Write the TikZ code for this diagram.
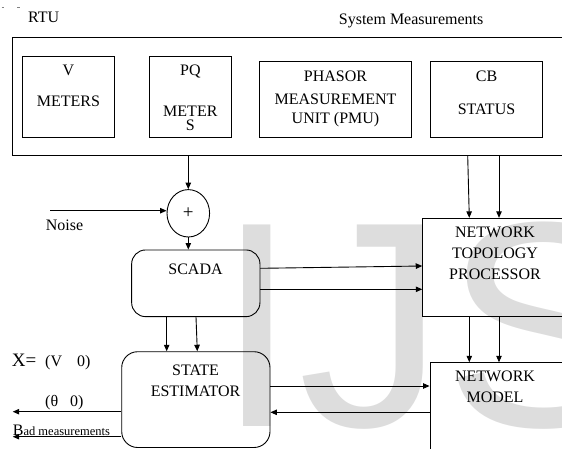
\documentclass[tikz,border=0pt]{standalone}
\usepackage{fontspec}
\setmainfont{Liberation Serif}
\newfontfamily\wmfont{Liberation Sans}
\usetikzlibrary{arrows.meta,shapes.geometric}
\definecolor{wmgray}{RGB}{221,221,221}
\begin{document}
\begin{tikzpicture}[x=1pt,y=-1pt,
  box/.style={draw, line width=0.9pt, inner sep=0pt},
  rbox/.style={box, rounded corners=14pt},
  lbl/.style={font=\fontsize{16}{19}\selectfont, anchor=base, inner sep=0pt},
  lblw/.style={lbl, anchor=base west},
  arr/.style={-{Triangle[length=6.5pt,width=5.5pt]}, line width=0.9pt}]
\useasboundingbox (0,0) rectangle (562,448);
% watermark
\node[anchor=base west, inner sep=0pt, text=wmgray, font=\wmfont\fontsize{293}{293}\selectfont] (wm) at (216.5,426) {IJS};
% tiny marks
\draw[line width=0.5pt, gray] (1.5,7.3) -- (4,7.3) (17,7.3) -- (19.5,7.3);
% labels on top
\node[lblw] (rtuL) at (28,22.7) {RTU};
\node[lblw] (sysL) at (338.7,24.3) {System Measurements};
% outer RTU box
\node[box, anchor=north west, minimum width=557.7pt, minimum height=118pt] (rtu) at (12.3,37) {};
% meter boxes
\node[box, minimum width=91.6pt, minimum height=80.6pt] (vm) at (68.5,97) {};
\node[lbl] (vm1) at (68.5,75) {V};
\node[lbl] (vm2) at (68.5,106) {METERS};
\node[box, minimum width=82.7pt, minimum height=80.6pt] (pq) at (190.35,97) {};
\node[lbl] (pq1) at (190.35,75) {PQ};
\node[lbl] (pq2) at (190.35,116.5) {METER};
\node[lbl] (pq3) at (190.35,130.5) {S};
\node[box, minimum width=152.4pt, minimum height=75.6pt] (pmu) at (335.5,99.5) {};
\node[lbl] (pmu1) at (335.5,81.7) {PHASOR};
\node[lbl] (pmu2) at (335.5,104) {MEASUREMENT};
\node[lbl] (pmu3) at (335.5,123) {UNIT (PMU)};
\node[box, minimum width=111.6pt, minimum height=75.6pt] (cb) at (486.5,99.5) {};
\node[lbl] (cb1) at (486.5,81) {CB};
\node[lbl] (cb2) at (486.5,114.5) {STATUS};
% summing junction
\node[draw, ellipse, line width=0.9pt, inner sep=0pt, minimum width=42.6pt, minimum height=47.4pt, font=\fontsize{19}{22}\selectfont] (sum) at (188.3,213.3) {+};
\coordinate (nz) at (50,210.7);
\node[lblw] (noiseL) at (45.7,230) {Noise};
% SCADA
\node[rbox, minimum width=128.3pt, minimum height=66.7pt] (scada) at (195.8,283.3) {};
\node[lbl] (scada1) at (195.5,274) {SCADA};
% state estimator
\node[rbox, rounded corners=16pt, minimum width=148.3pt, minimum height=95.8pt] (se) at (195.85,399.6) {};
\node[lbl] (se1) at (195.5,375) {STATE};
\node[lbl] (se2) at (195.5,396.7) {ESTIMATOR};
% network topology processor
\node[box, minimum width=142.3pt, minimum height=98.4pt] (ntp) at (493.85,267.5) {};
\node[lbl] (ntp1) at (495,237.3) {NETWORK};
\node[lbl] (ntp2) at (495,258.3) {TOPOLOGY};
\node[lbl] (ntp3) at (495,279) {PROCESSOR};
% network model
\node[box, minimum width=135pt, minimum height=92.3pt] (nm) at (497.5,408.85) {};
\node[lbl] (nm1) at (495,381.7) {NETWORK};
\node[lbl] (nm2) at (495,402.3) {MODEL};
% left labels
\node[anchor=base west, inner sep=0pt, font=\fontsize{19}{22}\selectfont] (xeq) at (11.7,366.7) {X=};
\node[lblw] (vang) at (45,366.7) {(V\hspace{15pt}0)};
\node[lblw] (thang) at (45,406) {(θ\hspace{12pt}0)};
\node[anchor=base west, inner sep=0pt] (badL) at (12.7,435) {{\fontsize{16}{19}\selectfont B}{\fontsize{12.5}{15}\selectfont ad measurements}};
% coordinates for connector x/y positions
\coordinate (xa) at (467.7,0);
\coordinate (xb) at (469.3,0);
\coordinate (xc) at (499,0);
\coordinate (ya1) at (0,268.3);
\coordinate (ya2) at (0,266);
\coordinate (yb) at (0,289.3);
\coordinate (xs1) at (166.7,0);
\coordinate (xs2) at (196,0);
\coordinate (xs3) at (197.3,0);
\coordinate (yc) at (0,386);
\coordinate (yd) at (0,412.3);
\coordinate (ye) at (0,411.7);
\coordinate (yf) at (0,436.7);
\coordinate (xl) at (12.7,0);
% connectors
\draw[arr] (rtu.south -| sum.north) -- (sum.north);
\draw[arr] (nz) -- (nz -| sum.west);
\draw[arr] (sum.south) -- (scada.north -| sum.south);
\draw[arr] (rtu.south -| xa) -- (ntp.north -| xb);
\draw[arr] (rtu.south -| xc) -- (ntp.north -| xc);
\draw[arr] (scada.east |- ya1) -- (ntp.west |- ya2);
\draw[arr] (scada.east |- yb) -- (ntp.west |- yb);
\draw[arr] (scada.south -| xs1) -- (se.north -| xs1);
\draw[arr] (scada.south -| xs2) -- (se.north -| xs3);
\draw[arr] (ntp.south -| xb) -- (nm.north -| xb);
\draw[arr] (ntp.south -| xc) -- (nm.north -| xc);
\draw[arr] (se.east |- yc) -- (nm.west |- yc);
\draw[arr] (nm.west |- yd) -- (se.east |- yd);
\draw[arr] (se.west |- ye) -- (xl |- ye);
\draw[arr] (se.west |- yf) -- (xl |- yf);
\end{tikzpicture}
\end{document}
